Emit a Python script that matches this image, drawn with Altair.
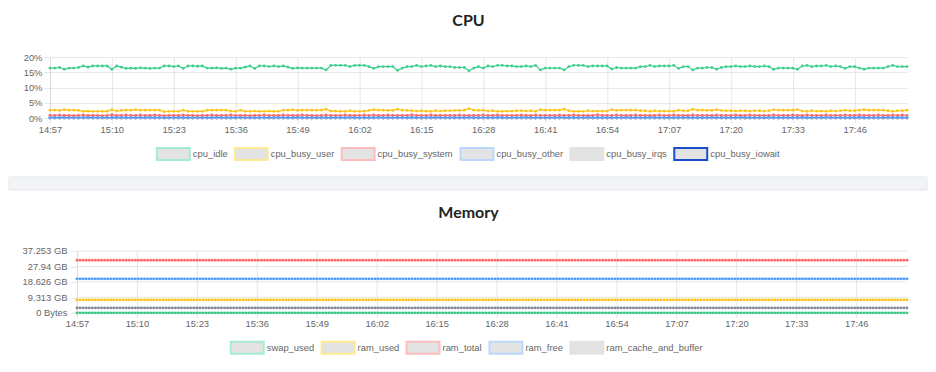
import json
import altair as alt
import pandas as pd

# ---------------- data ----------------
TICK_LABELS = ["14:57", "15:10", "15:23", "15:36", "15:49", "16:02", "16:15",
               "16:28", "16:41", "16:54", "17:07", "17:20", "17:33", "17:46"]
TICK_STEP_MIN = 13
SPAN_MIN = 180

CPU_SERIES = ["cpu_idle", "cpu_busy_user", "cpu_busy_system",
              "cpu_busy_other", "cpu_busy_irqs", "cpu_busy_iowait"]
CPU_COLORS = ["#3dcf8e", "#fcc419", "#ff6b6b", "#4a9dff", "#c9c9c9", "#1a4ec8"]
CPU_LEGEND_BORDERS = ["#a6ecd1", "#fdea93", "#fbbdbd", "#bad8fd", "#e3e3e3", "#1a4ec8"]
CPU_DRAW_ORDER = ["cpu_busy_iowait", "cpu_busy_irqs", "cpu_busy_other",
                  "cpu_busy_system", "cpu_busy_user", "cpu_idle"]

CPU_IDLE = [
    16.4, 16.4, 16.6, 16.0, 16.4, 16.4, 16.6, 17.1, 16.7, 17.1,
    17.1, 17.1, 17.1, 16.0, 17.1, 16.7, 16.3, 16.4, 16.3, 16.5,
    16.4, 16.3, 16.4, 16.4, 17.1, 17.1, 16.9, 17.1, 16.3, 17.1,
    17.1, 17.0, 17.1, 16.4, 16.4, 16.5, 16.3, 16.4, 16.0, 16.4,
    16.4, 16.7, 17.1, 16.3, 17.1, 17.1, 16.9, 17.1, 16.9, 17.1,
    16.7, 16.3, 16.5,
    16.4, 16.4, 16.4, 16.4, 16.4, 15.8, 17.3, 17.3, 17.3, 17.3,
    16.9, 17.3, 17.3, 17.3, 16.9, 16.3, 16.9, 16.9, 16.9, 16.9,
    15.7, 16.4, 16.9, 16.9, 17.3, 16.9, 17.1, 17.3, 16.9, 17.1,
    16.9, 16.9, 16.6, 16.6, 16.6, 15.5, 16.4, 16.9, 16.4, 17.1,
    16.9, 17.3, 17.3, 17.1, 17.1, 16.9, 16.9, 17.1, 16.9, 17.3,
    15.8, 16.4, 16.4, 16.4, 16.4, 15.8, 16.9, 17.3, 17.3, 17.3,
    16.9, 17.1, 17.1, 17.1, 17.1, 16.1, 16.6,
    16.4, 16.4, 16.4, 16.4, 16.9, 16.9, 17.3, 16.9, 17.1, 17.1,
    17.1, 17.3, 16.3, 16.9, 16.9, 15.8, 16.4, 16.4, 16.6, 16.6,
    16.0, 16.6, 16.9, 16.9, 17.1, 16.9, 16.9, 17.1, 16.9, 16.9,
    17.1, 16.9, 16.0, 16.4, 16.4, 16.4, 16.4, 16.0, 17.1, 17.3,
    16.9, 17.1, 17.1, 17.3, 16.9, 17.1, 16.9, 16.3, 16.9, 16.9,
    16.4, 16.0, 16.4, 16.4, 16.4, 16.4, 16.9, 17.3, 16.9, 16.9,
    16.9,
]
CPU_USER = [
    2.6, 2.6, 2.5, 2.8, 2.6, 2.6, 2.5, 2.2, 2.3, 2.2,
    2.2, 2.2, 2.2, 2.8, 2.3, 2.5, 2.6, 2.6, 2.8, 2.6,
    2.6, 2.6, 2.6, 2.6, 2.1, 2.2, 2.2, 2.2, 2.6, 2.2,
    2.2, 2.2, 2.2, 2.6, 2.6, 2.6, 2.6, 2.6, 2.3, 2.2,
    2.6, 2.2, 2.2, 2.3, 2.2, 2.2, 2.3, 2.2, 2.2, 2.6,
    2.6, 2.8, 2.5,
    2.6, 2.6, 2.6, 2.6, 2.6, 2.9, 2.3, 2.3, 2.2, 2.2,
    2.4, 2.2, 2.2, 2.3, 2.5, 2.8, 2.6, 2.6, 2.5, 2.5,
    2.9, 2.6, 2.5, 2.4, 2.3, 2.4, 2.3, 2.2, 2.4, 2.3,
    2.4, 2.4, 2.5, 2.5, 2.6, 3.1, 2.6, 2.5, 2.6, 2.3,
    2.4, 2.2, 2.2, 2.3, 2.3, 2.4, 2.4, 2.3, 2.4, 2.2,
    2.8, 2.6, 2.6, 2.6, 2.6, 2.9, 2.4, 2.2, 2.2, 2.2,
    2.4, 2.3, 2.3, 2.3, 2.3, 2.8, 2.5,
    2.6, 2.6, 2.6, 2.6, 2.4, 2.4, 2.2, 2.4, 2.3, 2.3,
    2.3, 2.2, 2.6, 2.4, 2.4, 2.9, 2.6, 2.6, 2.5, 2.5,
    2.8, 2.5, 2.4, 2.4, 2.3, 2.4, 2.4, 2.3, 2.4, 2.4,
    2.3, 2.4, 2.8, 2.6, 2.6, 2.6, 2.6, 2.8, 2.3, 2.2,
    2.4, 2.3, 2.3, 2.2, 2.4, 2.3, 2.4, 2.6, 2.4, 2.4,
    2.6, 2.8, 2.6, 2.6, 2.6, 2.6, 2.4, 2.2, 2.4, 2.4,
    2.6,
]
CPU_SYSTEM = [
    0.9, 0.9, 1.0, 0.9, 0.9, 0.8, 0.9, 1.0, 0.9, 0.9,
    0.9, 0.8, 0.9, 1.1, 0.9, 0.9, 1.0, 0.9, 0.9, 1.0,
    0.9, 0.9, 1.0, 0.9, 0.8, 0.9, 0.9, 0.9, 1.0, 0.9,
    0.9, 0.8, 0.9, 0.9, 1.0, 0.9, 0.9, 0.9, 1.0, 0.9,
    0.9, 0.9, 0.8, 0.9, 0.9, 1.0, 0.9, 0.9, 0.9, 1.0,
    0.9, 0.9, 0.9, 1.0, 0.9, 0.9, 0.8, 0.9, 1.0, 0.9,
    0.9, 0.9, 1.0, 0.9, 0.9, 0.9, 1.0, 0.9, 1.0, 0.9,
    0.9, 1.0, 0.9, 0.9, 0.9, 0.9, 1.1, 0.9, 0.9, 0.9,
    1.0, 0.9, 0.9, 0.9, 0.9, 0.9, 1.0, 0.9, 0.9, 0.9,
    0.9, 1.0, 0.9, 0.9, 1.0, 0.9, 0.9, 0.9, 0.9, 1.0,
    0.9, 0.9, 1.0, 0.9, 0.9, 0.9, 0.9, 1.0, 0.9, 0.9,
    1.0, 0.9, 0.9, 0.9, 0.9, 1.1, 0.9, 0.9, 0.9, 1.0,
    0.9, 0.9, 0.9, 1.0, 0.9, 0.9, 0.9, 0.9, 1.0, 0.9,
    0.9, 1.0, 0.9, 0.9, 0.9, 1.0, 0.9, 0.9, 0.9, 0.9,
    1.0, 0.9, 0.9, 0.9, 1.0, 0.9, 0.9, 1.0, 0.9, 0.9,
    0.9, 0.9, 1.0, 0.9, 0.9, 0.9, 1.0, 0.9, 0.9, 1.0,
    0.9, 0.9, 0.9, 1.0, 0.9, 0.9, 0.9, 1.0, 0.9, 0.9,
    1.0, 0.9, 0.9, 0.9, 1.0, 0.9, 0.9, 1.0, 0.9, 1.0,
    0.9,
]
CPU_OTHER = [
    0.2, 0.2, 0.2, 0.3, 0.2, 0.2, 0.2, 0.2, 0.3, 0.2,
    0.2, 0.2, 0.2, 0.2, 0.3, 0.2, 0.2, 0.2, 0.2, 0.2,
    0.2, 0.3, 0.2, 0.2, 0.2, 0.2, 0.2, 0.3, 0.2, 0.2,
    0.2, 0.2, 0.2, 0.2, 0.2, 0.3, 0.2, 0.2, 0.2, 0.2,
    0.3, 0.2, 0.2, 0.2, 0.2, 0.2, 0.2, 0.2, 0.3, 0.2,
    0.2, 0.2, 0.3, 0.2, 0.2, 0.2, 0.2, 0.2, 0.2, 0.2,
    0.2, 0.2, 0.2, 0.3, 0.2, 0.2, 0.2, 0.2, 0.2, 0.3,
    0.2, 0.2, 0.2, 0.2, 0.2, 0.2, 0.3, 0.2, 0.2, 0.2,
    0.2, 0.3, 0.2, 0.2, 0.2, 0.2, 0.2, 0.2, 0.3, 0.2,
    0.2, 0.2, 0.2, 0.2, 0.3, 0.2, 0.2, 0.2, 0.2, 0.2,
    0.3, 0.2, 0.2, 0.2, 0.2, 0.2, 0.2, 0.3, 0.2, 0.2,
    0.2, 0.2, 0.2, 0.3, 0.2, 0.2, 0.2, 0.2, 0.2, 0.2,
    0.2, 0.3, 0.2, 0.2, 0.2, 0.2, 0.3, 0.2, 0.2, 0.2,
    0.2, 0.2, 0.2, 0.2, 0.3, 0.2, 0.2, 0.2, 0.2, 0.3,
    0.2, 0.2, 0.2, 0.2, 0.2, 0.3, 0.2, 0.2, 0.2, 0.2,
    0.2, 0.3, 0.2, 0.2, 0.2, 0.2, 0.2, 0.2, 0.3, 0.2,
    0.2, 0.2, 0.2, 0.3, 0.2, 0.2, 0.2, 0.2, 0.2, 0.2,
    0.3, 0.2, 0.2, 0.2, 0.2, 0.2, 0.3, 0.2, 0.2, 0.2,
    0.2,
]
CPU_IRQS = [0.0] * len(CPU_IDLE)
CPU_IOWAIT = [0.0] * len(CPU_IDLE)
CPU_Y_TICKS = [0, 5, 10, 15, 20]

MEM_SERIES = ["swap_used", "ram_used", "ram_total", "ram_free", "ram_cache_and_buffer"]
MEM_COLORS = ["#35c982", "#fcc419", "#ff6b6b", "#4a9dff", "#858b99"]
MEM_LEGEND_BORDERS = ["#a6ecd1", "#fdea93", "#fbbdbd", "#bad8fd", "#e3e3e3"]
MEM_LEVEL_BYTES = [0.0, 8.4e9, 34.0e9, 22.0e9, 3.2e9]
MEM_SAMPLE_SECONDS = 40
MEM_Y_TICKS = [0, 1e10, 2e10, 3e10, 4e10]
MEM_TICK_LABELS = ["0 Bytes", "9.313 GB", "18.626 GB", "27.94 GB", "37.253 GB"]

# ---------------- tables ----------------
cpu_values = dict(zip(CPU_SERIES, [CPU_IDLE, CPU_USER, CPU_SYSTEM, CPU_OTHER, CPU_IRQS, CPU_IOWAIT]))
cpu_rows = []
for s in CPU_DRAW_ORDER:
    for i, v in enumerate(cpu_values[s]):
        cpu_rows.append({"minute": i, "series": s, "entry": s, "value": v})
cpu_df = pd.DataFrame(cpu_rows)

n_mem = SPAN_MIN * 60 // MEM_SAMPLE_SECONDS + 1
mem_rows = []
for s, lvl in zip(MEM_SERIES, MEM_LEVEL_BYTES):
    for i in range(n_mem):
        mem_rows.append({"minute": i * MEM_SAMPLE_SECONDS / 60, "series": s, "entry": s, "value": lvl})
mem_df = pd.DataFrame(mem_rows)
mem_grid_df = pd.DataFrame({"tick": MEM_Y_TICKS})

# ---------------- layout / styling ----------------
FONT = "Liberation Sans"
LABEL_COLOR = "#666666"
GRID = "#e6e6e6"
RECT_PATH = "M-1,-1H4.5V1H-1Z"
PLOT_W = 858
LEFT_EXTENT = 41          # CPU y-axis gutter
MEM_INSET = 27            # memory plot starts this far right of the CPU plot
MEM_X0 = -MEM_INSET * SPAN_MIN / (PLOT_W - MEM_INSET)
SEP_W = 878

x_tick_values = [i * TICK_STEP_MIN for i in range(len(TICK_LABELS))]
x_label_expr = json.dumps(TICK_LABELS) + f"[round(datum.value / {TICK_STEP_MIN})]"


def x_enc(x0, domain_line):
    return alt.X("minute:Q",
                 scale=alt.Scale(domain=[x0, SPAN_MIN], nice=False, zero=False),
                 axis=alt.Axis(title=None, values=x_tick_values, labelExpr=x_label_expr,
                               grid=True, gridColor=GRID, tickColor=GRID, tickSize=5,
                               domain=domain_line, domainColor=GRID, labelPadding=2,
                               labelFlush=False, labelFont=FONT, labelFontSize=9.4,
                               labelColor=LABEL_COLOR))


def legend(x):
    return alt.Legend(title=None, orient="none", legendX=x, legendY=90,
                      direction="horizontal", symbolType=RECT_PATH, symbolSize=144,
                      symbolStrokeWidth=2, symbolOpacity=1,
                      labelOffset=23, columnPadding=3, padding=0,
                      labelFont=FONT, labelFontSize=9.4, labelColor=LABEL_COLOR)


def panel(df, series, colors, borders, y_axis, y_scale, x0, title, legx, height,
          title_offset, line_width, grid_layer=None):
    base = alt.Chart(df)
    xe = x_enc(x0, x0 == 0)
    ye = alt.Y("value:Q", scale=y_scale, axis=y_axis)
    lg = legend(legx)
    legend_layer = base.mark_point(size=0, opacity=0, filled=True).encode(
        x=xe, y=ye,
        fill=alt.Fill("entry:N", scale=alt.Scale(domain=series, range=["#e3e3e3"] * len(series)),
                      legend=lg),
        stroke=alt.Stroke("entry:N", scale=alt.Scale(domain=series, range=borders), legend=lg),
    )
    color = alt.Color("series:N", scale=alt.Scale(domain=series, range=colors), legend=None)
    lines = base.mark_line(strokeWidth=line_width).encode(x=xe, y=ye, color=color)
    points = base.mark_point(filled=True, size=8, opacity=1).encode(x=xe, y=ye, color=color)
    layers = [legend_layer, lines, points]
    if grid_layer is not None:
        layers = [grid_layer(xe)] + layers
    return alt.layer(*layers).properties(
        width=PLOT_W, height=height,
        title=alt.TitleParams(title, dx=-10, offset=title_offset, fontSize=16, font="Lato",
                              fontWeight="bold", color="#222222", anchor="middle"))


cpu_axis = alt.Axis(title=None, values=CPU_Y_TICKS, labelExpr="datum.value + '%'",
                    grid=True, gridColor=GRID, tickColor=GRID, tickSize=6, domainColor="#dcdcdc",
                    labelPadding=2, minExtent=LEFT_EXTENT, labelFont=FONT, labelFontSize=9.4,
                    labelColor=LABEL_COLOR)
mem_axis = alt.Axis(title=None, values=MEM_Y_TICKS,
                    labelExpr=json.dumps(MEM_TICK_LABELS) + "[round(datum.value / 1e10)]",
                    grid=False, tickColor=GRID, tickSize=6, domainColor="#dcdcdc",
                    offset=-MEM_INSET, labelPadding=4, labelFont=FONT, labelFontSize=9.4,
                    labelColor=LABEL_COLOR)
mem_y_scale = alt.Scale(domain=[0, 4e10], nice=False)


def mem_grid(xe):
    return alt.Chart(mem_grid_df).mark_rule(color=GRID, strokeWidth=1).encode(
        y=alt.Y("tick:Q", scale=mem_y_scale, axis=mem_axis),
        x=alt.datum(0, scale=alt.Scale(domain=[MEM_X0, SPAN_MIN], nice=False, zero=False)),
        x2=alt.datum(SPAN_MIN),
    )


cpu = panel(cpu_df, CPU_SERIES, CPU_COLORS, CPU_LEGEND_BORDERS, cpu_axis,
            alt.Scale(domain=[0, 20], nice=False), 0, "CPU", 106, 61, 23, 1.2)
mem = panel(mem_df, MEM_SERIES, MEM_COLORS, MEM_LEGEND_BORDERS, mem_axis,
            mem_y_scale, MEM_X0, "Memory", 180, 62, 25, 0.8, grid_layer=mem_grid)

sep = alt.Chart(pd.DataFrame({"k": [0]})).mark_rect(
    fill="#f2f3f5", stroke="#e4e6ea", strokeWidth=1
).encode(x=alt.value(-LEFT_EXTENT), x2=alt.value(SEP_W), y=alt.value(13), y2=alt.value(26)).properties(
    width=SEP_W, height=41)

chart = alt.ConcatChart(concat=[cpu, sep, mem], columns=1, spacing=0).properties(
    padding={"left": 0, "top": 5, "right": 0, "bottom": 0},
    background="white",
).configure_view(stroke=None).resolve_scale(color="independent", stroke="independent",
                                            fill="independent")

chart.save("out.html", embed_options={"renderer": "svg", "actions": False})
